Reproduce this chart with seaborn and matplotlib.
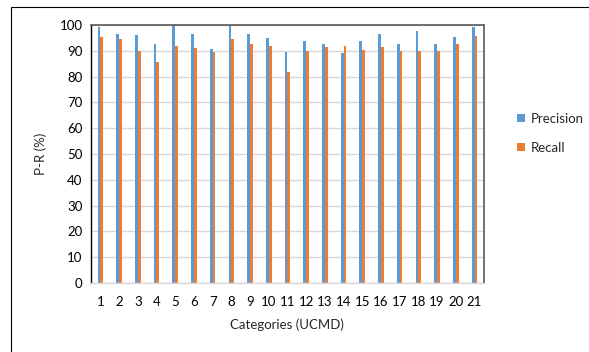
import matplotlib

matplotlib.use("Agg")
import matplotlib.pyplot as plt
import pandas as pd
import seaborn as sns
from matplotlib.patches import Rectangle

# values
categories = [str(i) for i in range(1, 22)]
precision = [99.1, 96.7, 96.3, 92.5, 100, 96.7, 90.6, 100, 96.7, 94.8, 89.7,
             93.9, 92.8, 89.2, 93.9, 96.7, 92.5, 97.6, 92.8, 95.2, 99.1]
recall = [95.2, 94.4, 90.0, 85.5, 92.0, 91.0, 89.7, 94.4, 92.5, 92.0, 81.6,
          90.0, 91.5, 92.0, 90.5, 91.5, 90.0, 90.0, 90.0, 92.8, 95.7]
series = ["Precision", "Recall"]
colors = ["#5B9BD5", "#ED7D31"]

df = pd.DataFrame({
    "category": categories * 2,
    "value": precision + recall,
    "series": [series[0]] * len(categories) + [series[1]] * len(categories),
})

sns.set_style("white")
plt.rcParams["font.family"] = ["Lato", "DejaVu Sans"]

fig = plt.figure(figsize=(5.89, 3.52), dpi=100)
ax = fig.add_axes([0.1545, 0.196, 0.667, 0.733])

sns.barplot(
    data=df, x="category", y="value", hue="series", order=categories,
    hue_order=series, palette=colors, width=0.3, saturation=1,
    linewidth=0, ax=ax,
)

ax.set_ylim(0, 100)
ax.set_yticks(range(0, 101, 10))
ax.set_xlim(-0.5, len(categories) - 0.5)
ax.yaxis.grid(True, color="#d9d9d9", linewidth=1)
ax.set_axisbelow(True)
ax.tick_params(axis="both", labelsize=9.5, colors="#000000", length=0, pad=6)
ax.tick_params(axis="x", pad=9)
ax.set_xlabel("Categories (UCMD)", fontsize=9.5, labelpad=8)
ax.set_ylabel("P-R (%)", fontsize=9.5, labelpad=9)

for side in ["top", "right"]:
    ax.spines[side].set_color("#595959")
    ax.spines[side].set_linewidth(1.2)
ax.spines["left"].set_color("#000000")
ax.spines["left"].set_linewidth(1.0)
ax.spines["bottom"].set_color("#d9d9d9")
ax.spines["bottom"].set_linewidth(1.0)

ax.legend(
    loc="center left", bbox_to_anchor=(1.055, 0.58), frameon=False,
    fontsize=9.5, handlelength=0.6, handleheight=0.6, labelspacing=1.3,
    handletextpad=0.4,
)

# outer chart border
fig.patches.append(Rectangle((11 / 589, -0.05), 1.2, 0.05 + (352 - 7) / 352,
                             transform=fig.transFigure, fill=False,
                             edgecolor="#000000", linewidth=0.8))

fig.savefig("out.png", dpi=100)
